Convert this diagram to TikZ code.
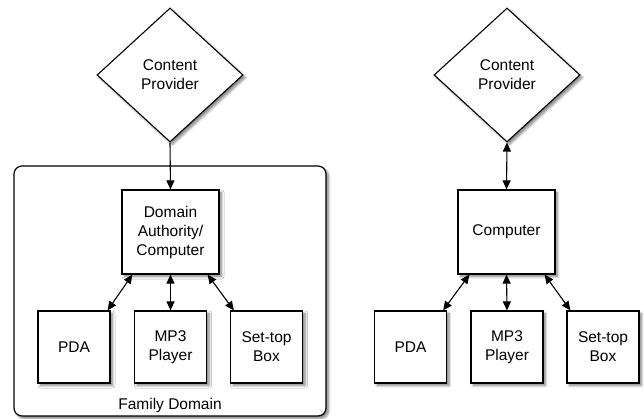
\documentclass[tikz,border=0pt]{standalone}
\usepackage{fontspec}
\setmainfont{Liberation Sans}
\usetikzlibrary{shapes.geometric,arrows.meta,shadows.blur,calc}

\tikzset{
  every node/.style={font=\fontsize{15.5}{19}\selectfont, align=center, inner sep=0pt},
  softshadow/.style={blur shadow={shadow xshift=2.5pt, shadow yshift=-2.5pt,
      shadow blur steps=6, shadow blur radius=2.5pt, shadow opacity=50}},
  provider/.style={shape=diamond, draw, line width=1.1pt, fill=white,
      minimum width=146pt, minimum height=134pt, softshadow},
  hub/.style={rectangle, draw, line width=1.2pt, fill=white,
      minimum width=97pt, minimum height=84pt, softshadow},
  device/.style={rectangle, draw, line width=1.2pt, fill=white,
      minimum width=72pt, minimum height=72pt, softshadow},
  domainbox/.style={rectangle, draw, line width=1.2pt, fill=white,
      rounded corners=8pt, minimum width=312pt, minimum height=250pt, softshadow},
  tip/.tip={Triangle[length=9pt,width=8pt]},
  link/.style={line width=1.1pt, -tip},
  duplex/.style={line width=1.1pt, tip-tip},
}

\begin{document}
\begin{tikzpicture}[x=1pt, y=-1pt]
  \useasboundingbox (0,0) rectangle (644,419);

  % ---- family domain (left) ----
  \node[domainbox] (fam) at (170,291) {};
  \node (famlabel) at (170,405) {Family Domain};

  \node[provider] (cpL) at (170,75) {Content\\Provider};
  \node[hub] (daL) at (170.5,232) {Domain\\Authority/\\Computer};
  \node[device] (pdaL) at (74,347) {PDA};
  \node[device] (mp3L) at (170.5,347) {MP3\\Player};
  \node[device] (stbL) at (266.5,347) {Set-top\\Box};

  \draw[link] (cpL.south) -- (daL.north);
  \draw[duplex] ($(daL.south west)+(11,0)$) -- ($(pdaL.north east)+(-3,0)$);
  \draw[duplex] (daL.south) -- (mp3L.north);
  \draw[duplex] ($(daL.south east)+(-12,0)$) -- ($(stbL.north west)+(4,0)$);

  % ---- single computer (right) ----
  \node[provider] (cpR) at (507,75) {Content\\Provider};
  \node[hub] (pcR) at (506.5,232) {Computer};
  \node[device] (pdaR) at (410.5,347) {PDA};
  \node[device] (mp3R) at (507,347) {MP3\\Player};
  \node[device] (stbR) at (603,347) {Set-top\\Box};

  \draw[duplex] (cpR.south) -- (pcR.north);
  \draw[duplex] ($(pcR.south west)+(12,0)$) -- ($(pdaR.north east)+(-4,0)$);
  \draw[duplex] (pcR.south) -- (mp3R.north);
  \draw[duplex] ($(pcR.south east)+(-11,0)$) -- ($(stbR.north west)+(4,0)$);
\end{tikzpicture}
\end{document}
